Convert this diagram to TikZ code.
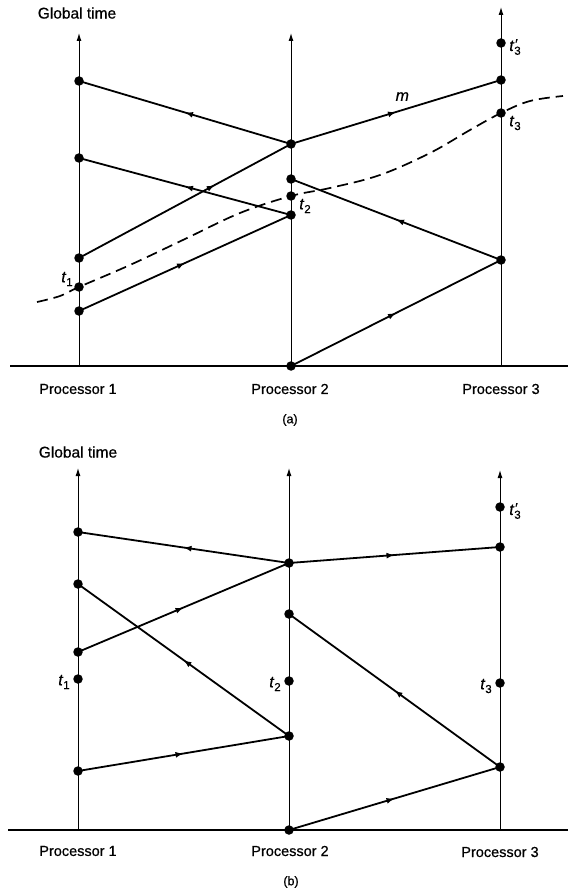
\documentclass[tikz,border=0pt]{standalone}
\usepackage{fontspec}
\setmainfont{Liberation Sans}[BoldFont={Liberation Sans},BoldFeatures={FakeBold=0.6},BoldItalicFont={Liberation Sans Italic},BoldItalicFeatures={FakeBold=0.6}]
\usetikzlibrary{arrows.meta,decorations.markings}
\newcommand{\tlab}[1]{\textit{t}\raisebox{-0.45ex}{\fontsize{11.5}{12}\selectfont #1}}
\newcommand{\tlabp}[1]{\textit{t}\rlap{\kern0.2pt\raisebox{0.25ex}{\fontsize{14}{14}\selectfont\textit{\char"2032}}}\raisebox{-0.45ex}{\fontsize{11.5}{12}\selectfont #1}}
\begin{document}
\begin{tikzpicture}[x=1pt,y=-1pt,
  dot/.style={circle,fill=black,inner sep=0pt,minimum size=9.5pt},
  axis/.style={line width=1pt,-{Latex[length=8pt,width=5pt]}},
  base/.style={line width=1.4pt},
  msg/.style={line width=1.8pt,postaction={decorate},
    decoration={markings,mark=at position #1 with {\arrow{Latex[length=8pt,width=6pt]}}}},
  msg/.default=0.5,
  lbl/.style={font=\fontsize{14.5}{16}\selectfont\bfseries},
  glbl/.style={font=\fontsize{15.5}{17}\selectfont\bfseries},
  tl/.style={font=\fontsize{16}{17}\selectfont\bfseries}]
\useasboundingbox (0,0) rectangle (568,890);

% ---------------- (a) ----------------
\node[glbl] (ga) at (77,13) {Global time};
\coordinate (a1b) at (79,366); \coordinate (a1t) at (79,33);
\coordinate (a2b) at (291,366); \coordinate (a2t) at (291,33);
\coordinate (a3b) at (501,366); \coordinate (a3t) at (501,7);
\coordinate (aL) at (10,366); \coordinate (aR) at (568,366);
\draw[base] (aL) -- (aR);
\draw[axis] (a1b) -- (a1t);
\draw[axis] (a2b) -- (a2t);
\draw[axis] (a3b) -- (a3t);

\node[dot] (a11) at (79,81) {};
\node[dot] (a12) at (79,158) {};
\node[dot] (a13) at (79,258) {};
\node[dot] (a14) at (79,287) {};
\node[dot] (a15) at (79,311) {};
\node[dot] (a21) at (291,144) {};
\node[dot] (a22) at (291,179) {};
\node[dot] (a23) at (291,196) {};
\node[dot] (a24) at (291,215) {};
\node[dot] (a25) at (291,366) {};
\node[dot] (a31) at (501,43) {};
\node[dot] (a32) at (501,80) {};
\node[dot] (a33) at (501,113) {};
\node[dot] (a34) at (501,260) {};

\draw[msg] (a21.center) -- (a11.center);
\draw[msg] (a24.center) -- (a12.center);
\draw[msg=0.64] (a13.center) -- (a21.center);
\draw[msg] (a15.center) -- (a24.center);
\draw[msg] (a21.center) -- node[pos=0.53,above=5pt,font=\fontsize{16}{17}\selectfont\bfseries\itshape] (m) {m} (a32.center);
\draw[msg] (a34.center) -- (a22.center);
\draw[msg] (a25.center) -- (a34.center);

\draw[line width=1.7pt,dash pattern=on 11pt off 6pt] plot[smooth,tension=0.6] coordinates
  {(37,302) (60,296) (79,287) (130,265) (185,239) (240,213) (291,196) (330,188) (380,175) (430,153) (470,130) (501,113) (530,101) (563,96)};

\node[tl] (t1a) at (67,279) {\tlab{1}};
\node[tl] (t2a) at (305,206) {\tlab{2}};
\node[tl] (t3a) at (515,123) {\tlab{3}};
\node[tl] (t3pa) at (515,47) {\tlabp{3}};

\node[lbl] (p1a) at (78,389) {Processor 1};
\node[lbl] (p2a) at (290,389) {Processor 2};
\node[lbl] (p3a) at (501,389) {Processor 3};
\node[font=\fontsize{12.5}{14}\selectfont\bfseries] (capa) at (290,420) {(a)};

% ---------------- (b) ----------------
\node[glbl] (gb) at (78,452) {Global time};
\coordinate (b1b) at (78,830); \coordinate (b1t) at (78,468);
\coordinate (b2b) at (289,830); \coordinate (b2t) at (289,468);
\coordinate (b3b) at (500,830); \coordinate (b3t) at (500,470);
\coordinate (bL) at (8,830); \coordinate (bR) at (568,830);
\draw[base] (bL) -- (bR);
\draw[axis] (b1b) -- (b1t);
\draw[axis] (b2b) -- (b2t);
\draw[axis] (b3b) -- (b3t);

\node[dot] (b11) at (78,532) {};
\node[dot] (b12) at (78,584) {};
\node[dot] (b13) at (78,652) {};
\node[dot] (b14) at (78,679) {};
\node[dot] (b15) at (78,771) {};
\node[dot] (b21) at (289,563) {};
\node[dot] (b22) at (289,614) {};
\node[dot] (b23) at (289,681) {};
\node[dot] (b24) at (289,736) {};
\node[dot] (b25) at (289,830) {};
\node[dot] (b31) at (500,507) {};
\node[dot] (b32) at (500,547) {};
\node[dot] (b33) at (500,683) {};
\node[dot] (b34) at (500,767) {};

\draw[msg] (b21.center) -- (b11.center);
\draw[msg] (b13.center) -- (b21.center);
\draw[msg] (b24.center) -- (b12.center);
\draw[msg] (b15.center) -- (b24.center);
\draw[msg] (b21.center) -- (b32.center);
\draw[msg] (b34.center) -- (b22.center);
\draw[msg] (b25.center) -- (b34.center);

\node[tl] (t1b) at (64,682) {\tlab{1}};
\node[tl] (t2b) at (275,684) {\tlab{2}};
\node[tl] (t3b) at (486,686) {\tlab{3}};
\node[tl] (t3pb) at (515,511) {\tlabp{3}};

\node[lbl] (p1b) at (78,851) {Processor 1};
\node[lbl] (p2b) at (290,851) {Processor 2};
\node[lbl] (p3b) at (500,852) {Processor 3};
\node[font=\fontsize{12.5}{14}\selectfont\bfseries] (capb) at (291,882) {(b)};
\end{tikzpicture}
\end{document}
